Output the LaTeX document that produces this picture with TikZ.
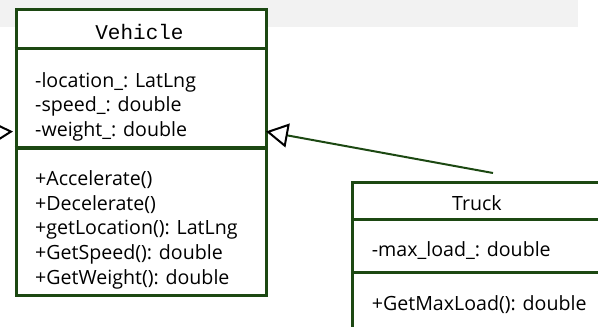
\documentclass[tikz,border=0pt]{standalone}
\usepackage{fontspec}
\setmainfont{Open Sans}
\newfontfamily\umlmono{Liberation Mono}
\usetikzlibrary{arrows.meta}
\definecolor{umlgreen}{RGB}{28,72,18}
\definecolor{bandgray}{RGB}{242,242,242}
\begin{document}
\begin{tikzpicture}[x=1pt,y=-1pt,
  classbox/.style={draw=umlgreen, line width=3.2pt, fill=white, inner sep=0pt, anchor=north west},
  divider/.style={draw=umlgreen, line width=3.2pt},
  member/.style={anchor=base west, inner sep=0pt, font=\fontsize{19.6}{24}\selectfont},
  classname/.style={anchor=base, inner sep=0pt},
  inherit/.style={draw=umlgreen, line width=2pt,
    -{Triangle[open, length=22pt, width=24pt, color=black, fill=white, line width=2pt]}}
]
\useasboundingbox (0,0) rectangle (598,327);
\clip (0,0) rectangle (598,327);
\fill[bandgray] (0,0) rectangle (578,27);

% Vehicle class
\node[classbox, minimum width=250pt, minimum height=285.5pt] (vehicle) at (14.5,8) {};
\draw[divider] (14.5,48.5) -- (264.5,48.5);
\draw[divider] (14.5,148) -- (264.5,148);
\node[classname, font=\umlmono\fontsize{21}{24}\selectfont] (vname) at (139.5,39.3) {Vehicle};
\node[member] (va1) at (35,87.3) {-location\_: LatLng};
\node[member] (va2) at (35,111.8) {-speed\_: double};
\node[member] (va3) at (35,136.5) {-weight\_: double};
\node[member] (vm1) at (35,185) {+Accelerate()};
\node[member] (vm2) at (35,210) {+Decelerate()};
\node[member] (vm3) at (35,234.8) {+getLocation(): LatLng};
\node[member] (vm4) at (35,259.8) {+GetSpeed(): double};
\node[member] (vm5) at (35,284.8) {+GetWeight(): double};

% Truck class
\node[classbox, minimum width=252pt, minimum height=160pt] (truck) at (351,181) {};
\draw[divider] (351,219.3) -- (603,219.3);
\draw[divider] (351,272.3) -- (603,272.3);
\node[classname, font=\fontsize{19.6}{24}\selectfont] (tname) at (477,210.7) {Truck};
\node[member] (ta1) at (371.7,256.7) {-max\_load\_: double};
\node[member] (tm1) at (371.7,310) {+GetMaxLoad(): double};

% generalisations
\coordinate (tstart) at (493,173);
\coordinate (vtipright) at (266,131.5);
\draw[inherit] (tstart) -- (vtipright);
\coordinate (lsrc) at (-100,138);
\coordinate (vtipleft) at (13,131.5);
\draw[inherit] (lsrc) -- (vtipleft);
\end{tikzpicture}
\end{document}
